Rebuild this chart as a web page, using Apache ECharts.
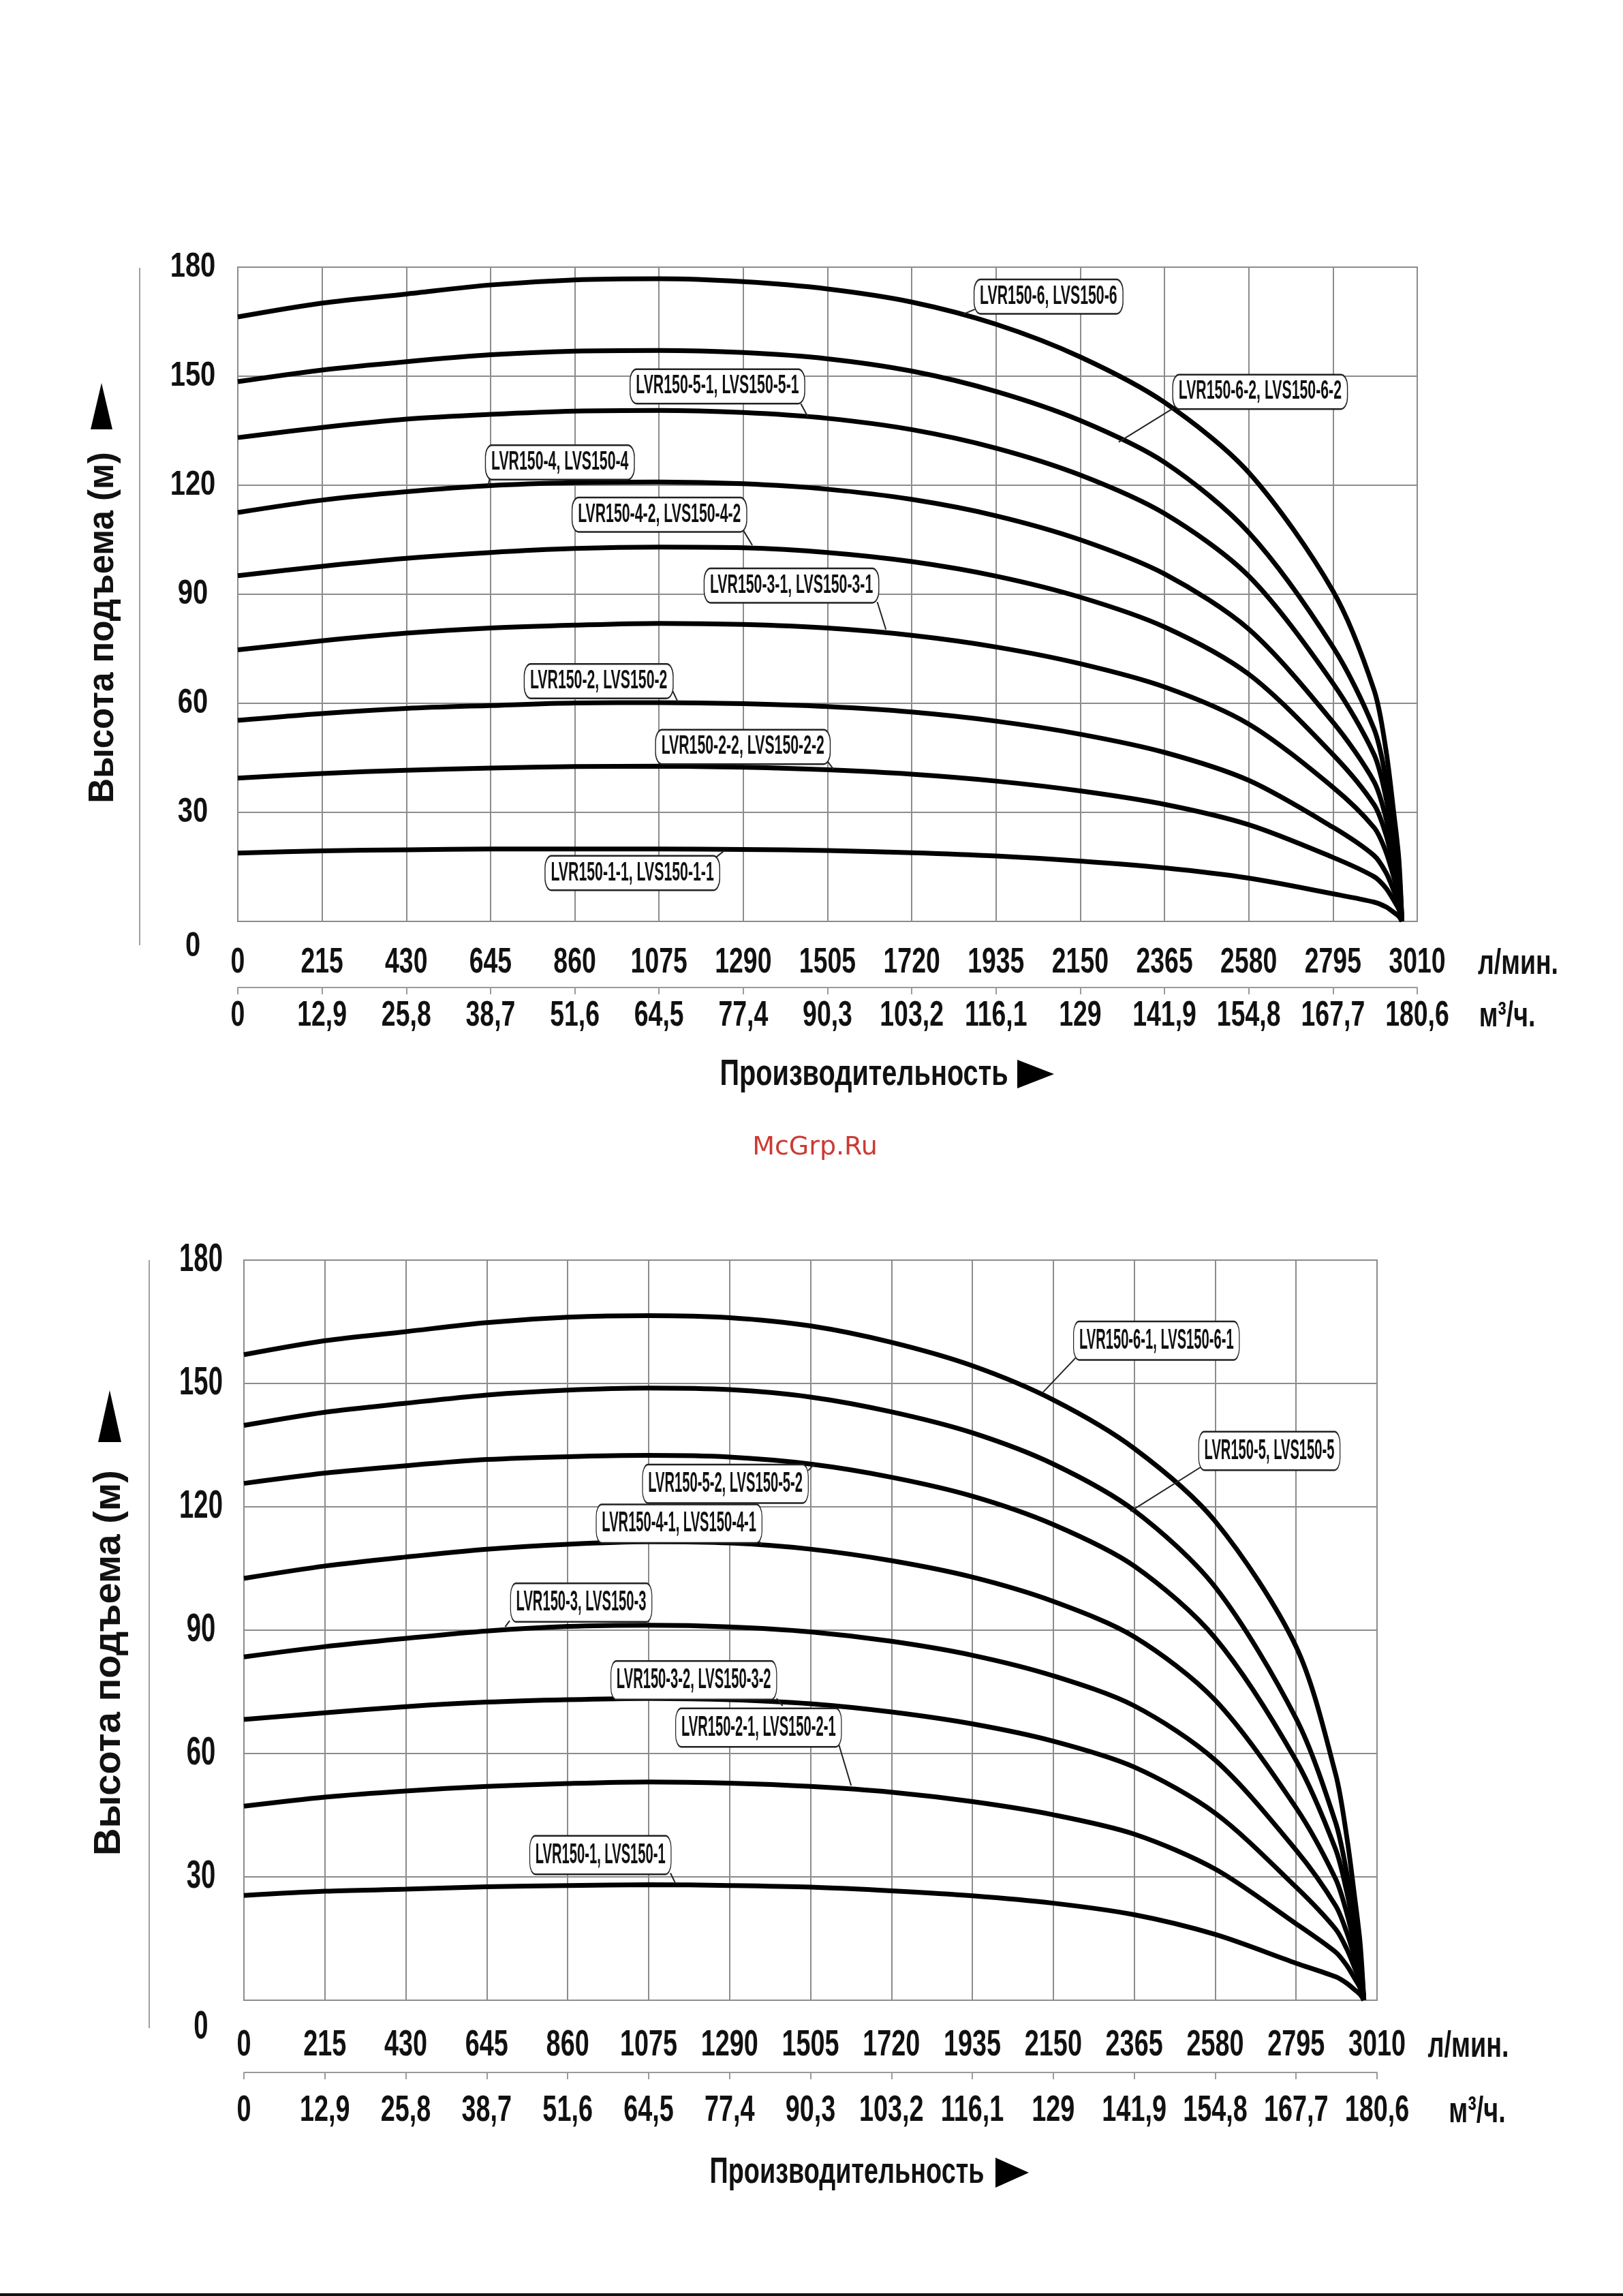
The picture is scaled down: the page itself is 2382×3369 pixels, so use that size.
<!DOCTYPE html>
<html><head><meta charset="utf-8">
<script src="https://cdn.jsdelivr.net/npm/echarts@6/dist/echarts.min.js"></script>
<style>html,body{margin:0;padding:0;background:#fff}#c{width:2382px;height:3369px}</style>
</head><body><div id="c"></div>
<script>
// ---------- DATA ----------
const flowTicks = [0,215,430,645,860,1075,1290,1505,1720,1935,2150,2365,2580,2795,3010];
const m3Ticks = ['0','12,9','25,8','38,7','51,6','64,5','77,4','90,3','103,2','116,1','129','141,9','154,8','167,7','180,6'];
const headTicks = [0,30,60,90,120,150,180];

const topFlow = [0,215,430,645,860,1075,1290,1505,1720,1935,2150,2365,2580,2795,2900,2930,2950,2963,2971];
const topNames = ['LVR150-6, LVS150-6','LVR150-6-2, LVS150-6-2','LVR150-5-1, LVS150-5-1','LVR150-4, LVS150-4','LVR150-4-2, LVS150-4-2','LVR150-3-1, LVS150-3-1','LVR150-2, LVS150-2','LVR150-2-2, LVS150-2-2','LVR150-1-1, LVS150-1-1'];
const top_6   = [166.3,170.1,172.6,175.1,176.5,176.8,176.0,174.0,170.4,164.3,155.3,142.8,123.5,90.9,63.6,47.3,30.0,17.3,0];
const top_6_2 = [148.5,151.7,154.0,155.9,156.9,157.1,156.5,154.8,151.4,145.8,137.8,126.3,107.0,75.5,52.9,39.3,24.9,14.3,0];
const top_5_1 = [133.1,135.9,138.2,139.5,140.4,140.6,140.0,138.4,135.3,130.2,122.8,112.2,95.0,65.5,45.9,34.1,21.6,12.4,0];
const top_4   = [112.5,115.9,118.2,119.9,120.7,120.9,120.4,118.9,116.1,111.6,105.0,95.6,80.4,54.8,38.4,28.5,18.1,10.4,0];
const top_4_2 = [95.1,97.7,99.9,101.5,102.6,103.0,102.8,101.5,99.0,95.0,89.2,81.0,68.0,45.9,32.1,23.9,15.1,8.7,0];
const top_3_1 = [74.7,77.2,79.3,80.7,81.5,82.0,81.7,80.7,78.7,75.5,70.9,64.5,54.3,36.9,25.8,19.2,12.2,7.0,0];
const top_2   = [55.3,57.2,58.6,59.4,60.1,60.2,59.9,59.1,57.6,55.1,51.5,46.5,38.8,25.9,18.1,13.5,8.5,4.9,0];
const top_2_2 = [39.4,40.7,41.6,42.2,42.6,42.7,42.4,41.7,40.5,38.6,35.9,32.2,26.6,17.6,12.3,9.2,5.8,3.3,0];
const top_1_1 = [18.8,19.4,19.7,19.9,19.9,19.9,19.8,19.5,18.9,18.0,16.6,14.7,11.9,7.6,5.3,4.0,2.5,1.4,0];
const topHeads = [top_6,top_6_2,top_5_1,top_4,top_4_2,top_3_1,top_2,top_2_2,top_1_1];

const botFlow = [0,215,430,645,860,1075,1290,1505,1720,1935,2150,2365,2580,2795,2900,2930,2950,2965,2975];
const botNames = ['LVR150-6-1, LVS150-6-1','LVR150-5, LVS150-5','LVR150-5-2, LVS150-5-2','LVR150-4-1, LVS150-4-1','LVR150-3, LVS150-3','LVR150-3-2, LVS150-3-2','LVR150-2-1, LVS150-2-1','LVR150-1, LVS150-1'];
const bot_6_1 = [157.0,160.4,162.6,164.8,166.1,166.5,166.0,164.0,160.0,154.3,146.0,134.2,116.5,86.0,55.0,39.5,25.5,14.0,0];
const bot_5   = [139.8,143.0,145.2,147.2,148.4,148.9,148.5,146.7,143.1,138.0,130.4,119.1,100.5,68.5,43.2,30.8,19.9,11.0,0];
const bot_5_2 = [125.7,128.2,130.0,131.5,132.2,132.5,132.1,130.4,127.2,122.6,115.7,105.6,88.1,58.3,36.7,26.2,16.9,9.3,0];
const bot_4_1 = [102.6,105.6,107.8,109.7,110.9,111.5,111.2,109.7,106.9,102.9,97.0,88.4,73.0,46.8,29.5,21.1,13.6,7.5,0];
const bot_3   = [83.5,86.0,88.0,89.8,90.9,91.2,90.8,89.6,87.3,83.9,78.9,71.6,58.4,36.5,23.0,16.4,10.6,5.8,0];
const bot_3_2 = [68.3,69.9,71.4,72.5,73.1,73.4,73.1,72.1,70.1,67.2,63.0,56.7,45.5,27.5,17.3,12.4,8.0,4.4,0];
const bot_2_1 = [47.2,49.4,50.9,52.0,52.7,53.1,52.8,52.0,50.6,48.3,45.1,40.4,31.9,18.6,11.7,8.4,5.4,3.0,0];
const bot_1   = [25.5,26.5,27.0,27.6,27.9,28.1,27.9,27.5,26.6,25.4,23.6,20.8,16.0,9.0,5.7,4.1,2.6,1.4,0];
const botHeads = [bot_6_1,bot_5,bot_5_2,bot_4_1,bot_3,bot_3_2,bot_2_1,bot_1];

// callout annotations in data units: [name index, box centre flow, head, leader start flow, head, leader end flow, head]
const topCallouts = [
  [0,2069,171.9,1881,168.4,1852,167.1],
  [1,2609,145.7,2388,141.2,2248,131.9],
  [2,1224,147.2,1437,142.4,1455,138.8],
  [3,822,126.3,644,122.4,639,119.9],
  [4,1076,111.9,1290,107.6,1313,103.5],
  [5,1413,92.4,1632,87.9,1654,80.3],
  [6,921,66.1,1108,63.8,1123,60.4],
  [7,1289,48.0,1504,44.2,1520,41.9],
  [8,1007,13.3,1220,17.6,1242,19.5]
];
const botCallouts = [
  [0,2424,160.4,2209,156.2,2121,147.7],
  [1,2724,133.6,2546,129.9,2355,118.9],
  [2,1279,125.6,1499,128.8,1515,130.4],
  [3,1156,115.9,1370,111.5,1374,110.7],
  [4,896,96.7,706,92.3,694,90.8],
  [5,1195,77.8,1415,73.4,1431,71.6],
  [6,1367,66.3,1581,62.0,1613,52.2],
  [7,947,35.3,1133,30.9,1145,28.7]
];

// ---------- STYLE ----------
const FONT_B = '"Liberation Sans",Arial,Helvetica,sans-serif';
const GRID_C = '#8c8c8c';
const TXT = '#111';

const chart = echarts.init(document.getElementById('c'), null, {renderer:'canvas'});

function mainX(gi){
  return {gridIndex:gi, type:'value', min:0, max:3010, interval:215,
    axisLine:{show:false}, axisTick:{show:false}, axisLabel:{show:false},
    splitLine:{show:true, lineStyle:{color:GRID_C, width:2}}};
}
function m3X(gi, offset){
  return {gridIndex:gi, type:'value', min:0, max:3010, interval:215, position:'bottom', offset:offset,
    axisLine:{show:true, lineStyle:{color:'#9a9a9a', width:2}},
    axisTick:{show:true, length:10, lineStyle:{color:'#9a9a9a', width:2}},
    axisLabel:{show:false}, splitLine:{show:false}};
}
function yAx(gi){
  return {gridIndex:gi, type:'value', min:0, max:180, interval:30,
    axisLine:{show:false}, axisTick:{show:false}, axisLabel:{show:false},
    splitLine:{show:true, lineStyle:{color:GRID_C, width:2}}};
}

const series = [];
topHeads.forEach((h,i)=>series.push({name:topNames[i], type:'line', xAxisIndex:0, yAxisIndex:0,
  data: topFlow.map((f,k)=>[f,h[k]]), smooth:0.3, symbol:'none', lineStyle:{color:'#000', width:7}, silent:true}));
botHeads.forEach((h,i)=>series.push({name:botNames[i], type:'line', xAxisIndex:2, yAxisIndex:1,
  data: botFlow.map((f,k)=>[f,h[k]]), smooth:0.3, symbol:'none', lineStyle:{color:'#000', width:7}, silent:true}));

chart.setOption({
  animation:false,
  backgroundColor:'#fff',
  grid:[
    {left:349, top:392, width:1731, height:960, show:true, borderColor:GRID_C, borderWidth:2, backgroundColor:'transparent', outerBoundsMode:'none'},
    {left:358, top:1849, width:1663, height:1086, show:true, borderColor:GRID_C, borderWidth:2, backgroundColor:'transparent', outerBoundsMode:'none'}
  ],
  xAxis:[ mainX(0), m3X(0,97), mainX(1), m3X(1,106) ],
  yAxis:[ yAx(0), yAx(1) ],
  series: series
});

// ---------- TEXT & ANNOTATIONS ----------
const g = [];
function txt(x, y, s, fs, sx, opt){
  const o = Object.assign({type:'text', z:30, x:x, y:y, scaleX:sx||1,
    style:{text:s, font:'bold '+fs+'px '+FONT_B, fill:TXT, align:'center', verticalAlign:'middle'}}, opt||{});
  g.push(o);
}
// tick labels placed through the axis scales
function xTickLabels(axisIdx, yRow1, yRow2, fs, sx){
  flowTicks.forEach((f,i)=>{
    const x = chart.convertToPixel({xAxisIndex:axisIdx}, f);
    txt(x, yRow1, String(f), fs, sx);
    txt(x, yRow2, m3Ticks[i], fs, sx);
  });
}
function yTickLabels(axisIdx, xc, zeroDrop, fs, sx){
  headTicks.forEach(v=>{
    const y = chart.convertToPixel({yAxisIndex:axisIdx}, v);
    txt(xc, y + (v===0 ? zeroDrop : 0), String(v), fs, sx);
  });
}
xTickLabels(0, 1413, 1491, 52, 0.72);
xTickLabels(2, 3001, 3097, 54, 0.7);
yTickLabels(0, 283, 37, 50, 0.8);
yTickLabels(1, 295, 40, 58, 0.66);

function addCallouts(list, names, seriesIdx, fs, sx, padV, padH){
  list.forEach(c=>{
    const p = chart.convertToPixel({seriesIndex:seriesIdx}, [c[1],c[2]]);
    const a = chart.convertToPixel({seriesIndex:seriesIdx}, [c[3],c[4]]);
    const b = chart.convertToPixel({seriesIndex:seriesIdx}, [c[5],c[6]]);
    g.push({type:'line', z:20, shape:{x1:a[0],y1:a[1],x2:b[0],y2:b[1]}, style:{stroke:'#222', lineWidth:2}});
    g.push({type:'text', z:21, x:p[0], y:p[1], scaleX:sx, style:{text:names[c[0]],
      font:'bold '+fs+'px '+FONT_B, fill:TXT, align:'center', verticalAlign:'middle',
      backgroundColor:'#fff', borderColor:'#222', borderWidth:2.5, borderRadius:16, padding:[padV,padH]}});
  });
}
addCallouts(topCallouts, topNames, 0, 38, 0.56, 5, 14);
addCallouts(botCallouts, botNames, 9, 42, 0.48, 6, 16);

// left decorative lines
g.push({type:'line', shape:{x1:205,y1:393,x2:205,y2:1387}, style:{stroke:'#a0a0a0', lineWidth:2}});
g.push({type:'line', shape:{x1:219,y1:1849,x2:219,y2:2976}, style:{stroke:'#a0a0a0', lineWidth:2}});
// y titles and arrows
txt(152, 921, 'Высота подъема (м)', 51, 1, {rotation:Math.PI/2});
g.push({type:'polygon', shape:{points:[[149,562],[133,630],[165,630]]}, style:{fill:'#000'}});
txt(161, 2440, 'Высота подъема (м)', 56, 1, {rotation:Math.PI/2});
g.push({type:'polygon', shape:{points:[[161,2040],[144,2116],[178,2116]]}, style:{fill:'#000'}});
// x titles
txt(1268, 1577, 'Производительность', 54, 0.735);
g.push({type:'polygon', shape:{points:[[1493,1555],[1493,1597],[1547,1576]]}, style:{fill:'#000'}});
txt(1243, 3188, 'Производительность', 54, 0.70);
g.push({type:'polygon', shape:{points:[[1461,3166],[1461,3210],[1510,3188]]}, style:{fill:'#000'}});
// units
txt(2228, 1415, 'л/мин.', 52, 0.72);
txt(2212, 1492, 'м³/ч.', 52, 0.72);
txt(2155, 3003, 'л/мин.', 54, 0.7);
txt(2168, 3099, 'м³/ч.', 54, 0.7);
// watermark
g.push({type:'text', x:1196, y:1684, style:{text:'McGrp.Ru', font:'38px "DejaVu Sans",sans-serif', fill:'#cc3a33', align:'center', verticalAlign:'middle'}});
// bottom page line
g.push({type:'rect', shape:{x:0,y:3365,width:2382,height:4}, style:{fill:'#111'}});

chart.setOption({graphic:g});
</script></body></html>
